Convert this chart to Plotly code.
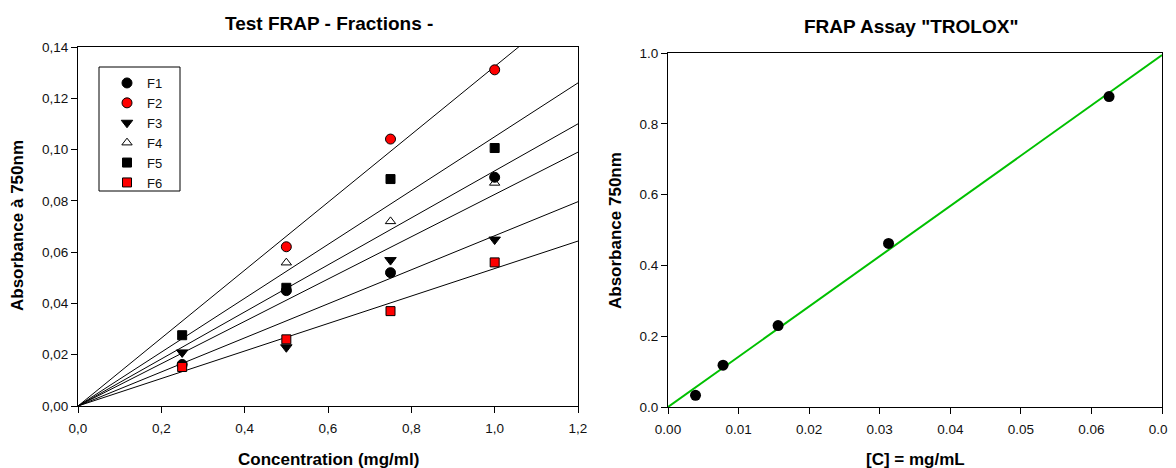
import plotly.graph_objects as go

# ---- Left chart data: FRAP test on fractions ----
conc = [0.25, 0.5, 0.75, 1.0]
F1 = [0.0162, 0.045, 0.052, 0.0892]
F2_x = [0.5, 0.75, 1.0]
F2 = [0.0621, 0.1041, 0.1311]
F3 = [0.0209, 0.0229, 0.0569, 0.0649]
F4_x = [0.5, 0.75, 1.0]
F4 = [0.0559, 0.072, 0.087]
F5 = [0.0276, 0.0461, 0.0885, 0.1006]
F6 = [0.0152, 0.026, 0.037, 0.056]
# slopes of the regression lines through origin
fit_slopes = [0.1324, 0.105, 0.0917, 0.0825, 0.0664, 0.0536]
fit_x = [0.0, 1.2]

left_yticks = [0, 0.02, 0.04, 0.06, 0.08, 0.10, 0.12, 0.14]
left_yticktext = ["0,00", "0,02", "0,04", "0,06", "0,08", "0,10", "0,12", "0,14"]
left_xticks = [0, 0.2, 0.4, 0.6, 0.8, 1.0, 1.2]
left_xticktext = ["0,0", "0,2", "0,4", "0,6", "0,8", "1,0", "1,2"]

# ---- Right chart data: Trolox calibration ----
trolox_c = [0.0039, 0.0078, 0.0156, 0.03125, 0.0625]
trolox_abs = [0.033, 0.118, 0.230, 0.462, 0.877]
trolox_slope = 14.2
trolox_intercept = 0.0
trolox_fit_x = [0.0, 0.07]
right_xticks = [0, 0.01, 0.02, 0.03, 0.04, 0.05, 0.06, 0.07]
right_yticks = [0, 0.2, 0.4, 0.6, 0.8, 1.0]

FONT = "Liberation Sans, Arial, sans-serif"
OFF = 8  # default page body margin
W, H = 1176 - OFF, 468 - OFF


def px_x(p):
    return (p - OFF) / W


def px_y(p):
    return (H - (p - OFF)) / H


fig = go.Figure()

# regression lines (left)
for s in fit_slopes:
    fig.add_trace(go.Scatter(x=fit_x, y=[s * v for v in fit_x], mode="lines",
                             line=dict(color="black", width=1), showlegend=False,
                             hoverinfo="skip", xaxis="x", yaxis="y"))

series = [
    ("F1", conc, F1, "circle", "black", 10),
    ("F2", F2_x, F2, "circle", "red", 10),
    ("F3", conc, F3, "triangle-down", "black", 10),
    ("F4", F4_x, F4, "triangle-up-open", "black", 9),
    ("F5", conc, F5, "square", "black", 9),
    ("F6", conc, F6, "square", "red", 9),
]
for name, xs, ys, sym, col, sz in series:
    fig.add_trace(go.Scatter(
        x=xs, y=ys, mode="markers", name=name,
        marker=dict(symbol=sym, color=col, size=sz,
                    line=dict(color="black", width=1)),
        xaxis="x", yaxis="y"))

# Trolox
fig.add_trace(go.Scatter(x=trolox_fit_x,
                         y=[trolox_slope * v + trolox_intercept for v in trolox_fit_x],
                         mode="lines", line=dict(color="#00c000", width=2),
                         showlegend=False, xaxis="x2", yaxis="y2"))
fig.add_trace(go.Scatter(x=trolox_c, y=trolox_abs, mode="markers",
                         marker=dict(symbol="circle", color="black", size=11),
                         showlegend=False, xaxis="x2", yaxis="y2"))

axis_common = dict(showline=True, linecolor="black", linewidth=1, mirror=True,
                   ticks="outside", ticklen=6, tickcolor="black", showgrid=False,
                   zeroline=False, automargin=False,
                   tickfont=dict(family=FONT, size=13.5, color="#111111"))

fig.update_layout(
    width=W, height=H,
    paper_bgcolor="white", plot_bgcolor="white",
    margin=dict(l=0, r=0, t=0, b=0),
    font=dict(family=FONT, color="black"),
    xaxis=dict(domain=[px_x(78), px_x(578)], range=[0, 1.2], tickvals=left_xticks,
               ticktext=left_xticktext, anchor="y", ticklabelstandoff=4, **axis_common),
    yaxis=dict(domain=[px_y(406), px_y(47)], range=[0, 0.14], tickvals=left_yticks,
               ticktext=left_yticktext, anchor="x", **axis_common),
    xaxis2=dict(domain=[px_x(668), px_x(1162)], range=[0, 0.07],
                tickvals=right_xticks, tickformat=".2f", anchor="y2",
                ticklabelstandoff=4, **axis_common),
    yaxis2=dict(domain=[px_y(407), px_y(53)], range=[0, 1.0], tickvals=right_yticks,
                tickformat=".1f", anchor="x2", **axis_common),
    legend=dict(x=px_x(107), y=px_y(68), xanchor="left", yanchor="top",
                borderwidth=0, bgcolor="rgba(0,0,0,0)",
                font=dict(family=FONT, size=13, color="#111111"),
                itemwidth=30, tracegroupgap=0),
    shapes=[
        dict(type="rect", xref="paper", yref="paper",
             x0=px_x(99), x1=px_x(180), y0=px_y(191), y1=px_y(67),
             line=dict(color="black", width=1), fillcolor="white", layer="below"),
    ],
)

ann = [
    ("<b>Test FRAP - Fractions -</b>", 329, 23, 19, 0),
    ('<b>FRAP Assay "TROLOX"</b>', 911, 27, 19, 0),
    ("<b>Concentration (mg/ml)</b>", 328, 459, 17, 0),
    ("<b>[C] = mg/mL</b>", 915, 459, 17, 0),
    ("<b>Absorbance à 750nm</b>", 17, 226, 17, -90),
    ("<b>Absorbance 750nm</b>", 615, 231, 17, -90),
]
for text, x, y, size, ang in ann:
    fig.add_annotation(text=text, x=px_x(x), y=px_y(y), xref="paper", yref="paper",
                       xanchor="center", yanchor="middle", showarrow=False,
                       textangle=ang, font=dict(family=FONT, size=size, color="black"))

fig.write_html("out.html")
